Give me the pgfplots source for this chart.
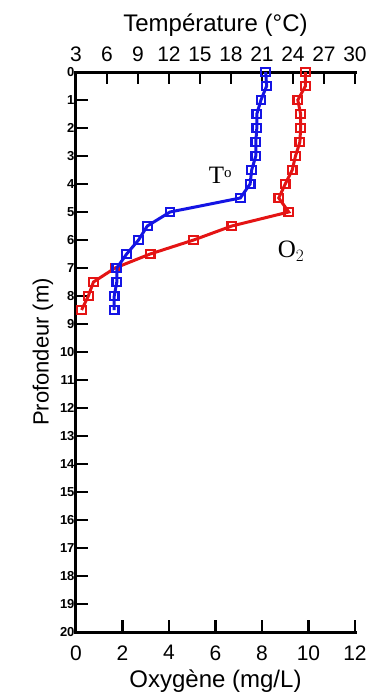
\documentclass[border=0pt]{standalone}
\usepackage{fontspec}
\setmainfont{Liberation Sans}
\newfontfamily\seriffont{Liberation Serif}
\usepackage{pgfplots}
\pgfplotsset{compat=1.18}
\definecolor{myred}{RGB}{228,20,20}
\definecolor{myblue}{RGB}{20,20,228}
\begin{document}
\begin{tikzpicture}
\pgfplotsset{
  common/.style={
    scale only axis, width=279pt, height=560pt, at={(0,0)}, anchor=south west,
    tick align=inside, major tick length=12pt,
    tick style={line width=2.6pt, black},
    axis line style={draw=none},
    /pgf/number format/assume math mode=true,
    clip=false,
  },
  frame/.style={common, ymin=0, ymax=1, ytick=\empty},
  data/.style={common, ymin=0, ymax=20, y dir=reverse},
  mk/.style={line width=3pt, mark=square, mark size=4.3pt,
    mark options={line width=2.2pt, solid}},
}
% bottom oxygen axis (frame only)
\begin{axis}[frame,
  xmin=0, xmax=12, xtick={0,2,...,12}, xtick pos=bottom,
  xticklabel style={font=\fontsize{21}{21}\selectfont, yshift=-10pt},
  xlabel={Oxygène (mg/L)},
  xlabel style={font=\fontsize{24}{24}\selectfont, yshift=-3pt},
]
\end{axis}
% top temperature axis (frame only)
\begin{axis}[frame,
  xmin=3, xmax=30, xtick={3,6,...,30}, xtick pos=top,
  xticklabel style={font=\fontsize{21}{21}\selectfont, yshift=7pt},
  xlabel={Température (°C)},
  xlabel style={font=\fontsize{24}{24}\selectfont, yshift=3pt},
]
\end{axis}
% oxygen data + depth axis
\begin{axis}[data,
  xmin=0, xmax=12, xtick=\empty,
  ytick={0,1,...,20}, ytick pos=left,
  yticklabel style={font=\fontsize{13}{13}\selectfont\bfseries, xshift=2pt},
  ylabel={Profondeur (m)},
  ylabel style={font=\fontsize{22}{22}\selectfont},
]
\draw[line width=3pt, line cap=rect] (rel axis cs:1,0) -- (rel axis cs:0,0) -- (rel axis cs:0,1) -- (rel axis cs:1,1);
\addplot[myred, mk] coordinates {
(9.87,0) (9.87,0.5) (9.54,1) (9.66,1.5) (9.66,2) (9.63,2.5) (9.44,3) (9.3,3.5)
(9.0,4) (8.72,4.5) (9.15,5) (6.7,5.5) (5.06,6) (3.19,6.5) (1.68,7) (0.75,7.5)
(0.53,8) (0.24,8.5)};
\node[font=\seriffont\fontsize{25}{25}\selectfont] at (axis cs:6.2,3.7) {T\raisebox{0.55ex}{\fontsize{15}{15}\selectfont o}};
\node[font=\seriffont\fontsize{25}{25}\selectfont] at (axis cs:9.25,6.4) {O$_2$};
\end{axis}
% temperature data
\begin{axis}[data,
  xmin=3, xmax=30, xtick=\empty, ytick=\empty,
]
\addplot[myblue, mk] coordinates {
(21.35,0) (21.45,0.5) (20.9,1) (20.5,1.5) (20.5,2) (20.4,2.5) (20.4,3) (20.0,3.5)
(19.85,4) (18.9,4.5) (12.1,5) (9.9,5.5) (9.05,6) (7.9,6.5) (6.95,7) (6.95,7.5)
(6.7,8) (6.7,8.5)};
\end{axis}
\pgfresetboundingbox
\path (-76pt,-64pt) rectangle (299pt,632pt);
\end{tikzpicture}
\end{document}
